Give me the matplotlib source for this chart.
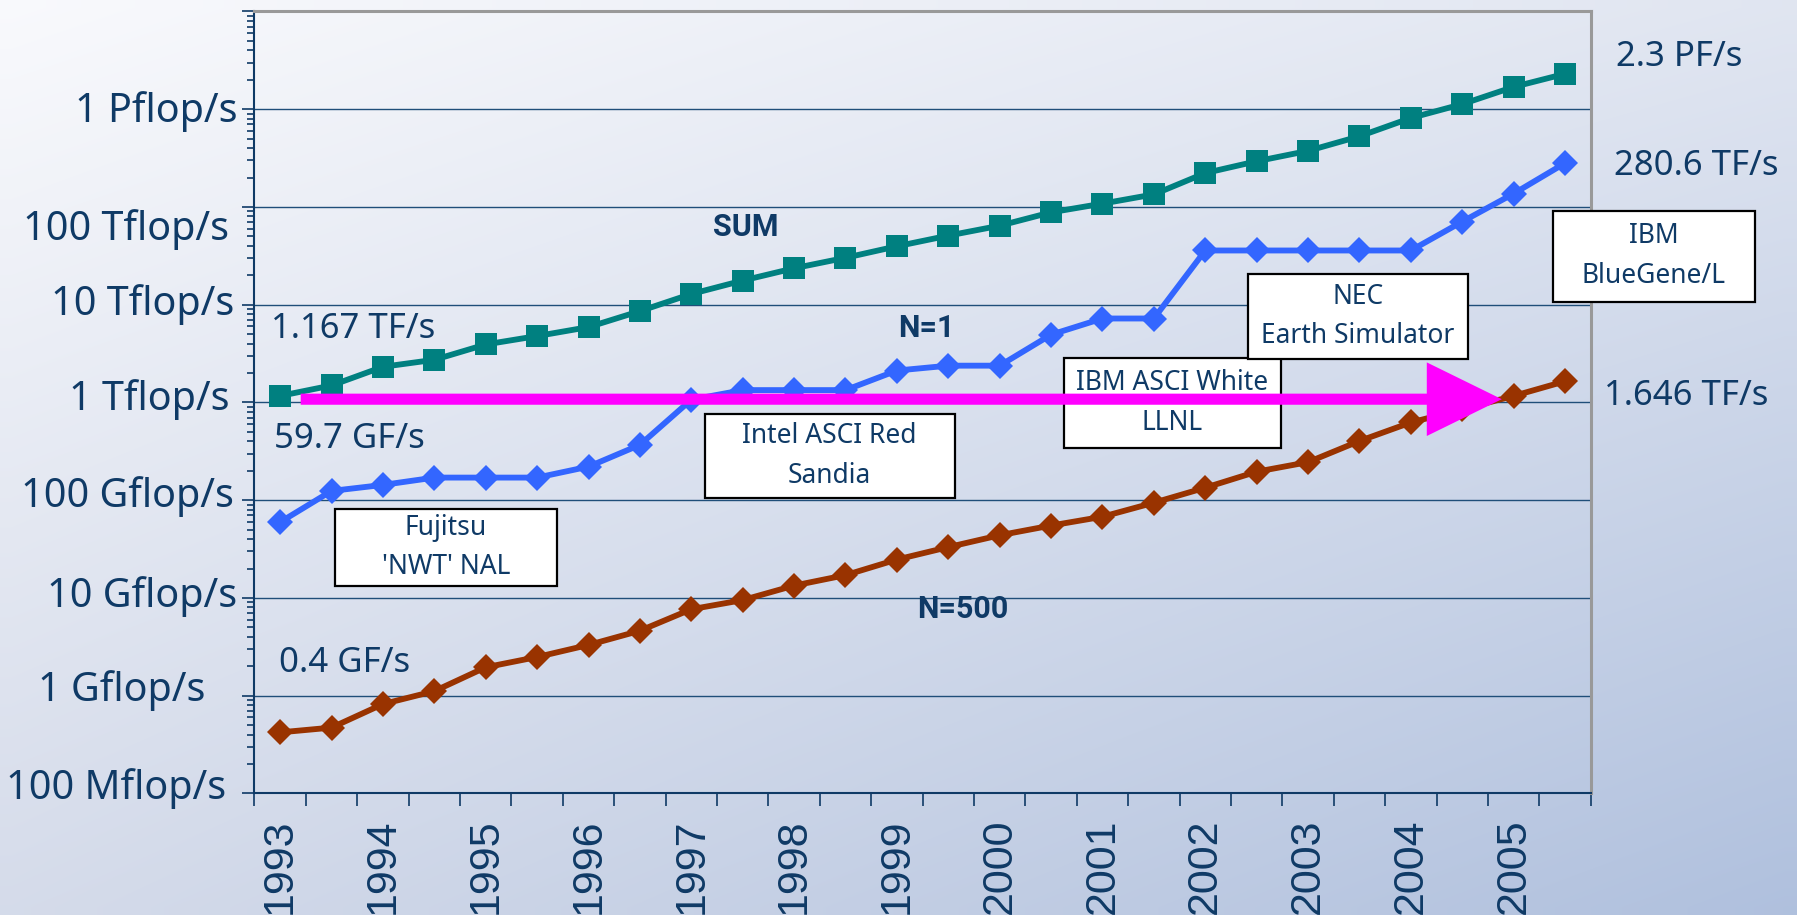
import matplotlib
matplotlib.use('Agg')
import matplotlib.pyplot as plt
import numpy as np
from matplotlib.patches import Rectangle, ArrowStyle
from matplotlib.ticker import FixedLocator, LogLocator, NullFormatter

# Top500 lists, June and November of each year, performance in Gflop/s
list_idx = np.arange(26)
year_labels = [str(y) for y in range(1993, 2006)]

sum_perf = [1167, 1493, 2317, 2732, 3922, 4780, 5900, 8600, 12880, 17660,
            23600, 30200, 39600, 50900, 64300, 88100, 108200, 134400, 222200,
            293300, 374600, 528100, 813100, 1127000, 1690000, 2300000]
n1_perf = [59.7, 124.5, 143.4, 170.4, 170.4, 170.4, 220.4, 368.2, 1068, 1338,
           1338, 1338, 2121, 2379, 2379, 4938, 7226, 7226, 35860, 35860,
           35860, 35860, 35860, 70720, 136800, 280600]
n500_perf = [0.422, 0.472, 0.822, 1.114, 1.955, 2.489, 3.306, 4.620, 7.670,
             9.513, 13.39, 17.12, 24.73, 33.13, 43.82, 55.07, 67.78, 94.30,
             134.3, 195.8, 245.1, 403.4, 624.0, 850.6, 1166, 1646]

decade_vals = [0.1, 1, 10, 100, 1e3, 1e4, 1e5, 1e6]
decade_labels = ['100 Mflop/s', '1 Gflop/s', '10 Gflop/s', '100 Gflop/s',
                 '1 Tflop/s', '10 Tflop/s', '100 Tflop/s', '1 Pflop/s']

box_labels = ["Fujitsu\n'NWT' NAL", "Intel ASCI Red\nSandia",
              "IBM ASCI White\nLLNL", "NEC\nEarth Simulator",
              "IBM\nBlueGene/L"]

NAVY = '#0f3a66'
plt.rcParams['font.family'] = ['Noto Sans', 'DejaVu Sans']

fig = plt.figure(figsize=(17.97, 9.15), dpi=100)

# soft bluish background
bg = fig.add_axes([0, 0, 1, 1], zorder=-5)
tl = np.array([0.975, 0.978, 0.99])
tr = np.array([0.88, 0.90, 0.945])
bl = np.array([0.835, 0.86, 0.918])
br = np.array([0.69, 0.755, 0.87])
u = np.linspace(0, 1, 80)[None, :, None]
v = np.linspace(0, 1, 60)[:, None, None]
grad = (1 - v) * ((1 - u) * tl + u * tr) + v * ((1 - u) * bl + u * br)
bg.imshow(grad, extent=[0, 1, 0, 1], aspect='auto', interpolation='bilinear')
bg.axis('off')

ax = fig.add_axes([0.1416, 0.1328, 0.7436, 0.8547])
ax.set_facecolor('none')
ax.set_yscale('log')

ax.plot(list_idx, sum_perf, color='#008080', lw=4.2, marker='s', ms=15.5,
        mew=0, zorder=3)
ax.plot(list_idx, n1_perf, color='#3366ff', lw=4.2, marker='D', ms=13,
        mew=0, zorder=3)
ax.plot(list_idx, n500_perf, color='#993300', lw=4.2, marker='D', ms=13,
        mew=0, zorder=3)

ax.set_xlim(-0.5, 25.5)
ax.set_ylim(0.1, 1e7)

# y axis
ax.yaxis.set_major_locator(FixedLocator(decade_vals + [1e7]))
ax.yaxis.set_minor_locator(LogLocator(base=10, subs=np.arange(2, 10), numticks=100))
ax.yaxis.set_major_formatter(NullFormatter())
ax.yaxis.set_minor_formatter(NullFormatter())
ax.tick_params(axis='y', which='major', length=9, width=1.2, color=NAVY, direction='out')
ax.tick_params(axis='y', which='minor', length=5, width=1.2, color=NAVY, direction='out')
ax.grid(axis='y', which='major', color='#1f4e79', lw=1)
ax.set_axisbelow(True)

dxs = [20.6, 35.5, 12.4, 14.9, 18.2, 14.9, 18.2, 12.4]
dys = [3.6, 3.6, 0.7, 2.9, 2.2, 0, -16, -1.4]
for val, lab, dx, dy in zip(decade_vals, decade_labels, dxs, dys):
    ax.annotate(lab, xy=(0, val), xycoords=('axes fraction', 'data'),
                xytext=(-dx, dy), textcoords='offset points', ha='right',
                va='center', fontsize=28.5, color=NAVY, annotation_clip=False)

# x axis
ax.set_xticks(list_idx[::2])
ax.set_xticklabels(year_labels, rotation=90, fontsize=31, color=NAVY,
                   family='Liberation Sans')
ax.set_xticks(np.arange(-0.5, 26, 1), minor=True)
ax.tick_params(axis='x', which='major', length=0, pad=18)
ax.tick_params(axis='x', which='minor', length=9, width=1.2, color=NAVY, direction='out')

for s in ['left', 'bottom']:
    ax.spines[s].set_color(NAVY)
    ax.spines[s].set_linewidth(1.5)
for s in ['top', 'right']:
    ax.spines[s].set_color('#999999')
    ax.spines[s].set_linewidth(2.2)

# series annotations
val_kw = dict(color=NAVY, fontsize=25, ha='left', va='center', clip_on=False)
ax.text(-0.18, 5640, '1.167 TF/s', **val_kw)
ax.text(-0.11, 422, '59.7 GF/s', **val_kw)
ax.text(-0.02, 2.17, '0.4 GF/s', **val_kw)
ax.text(26.0, 3.4e6, '2.3 PF/s', **val_kw)
ax.text(25.96, 2.6e5, '280.6 TF/s', **val_kw)
ax.text(25.76, 1175, '1.646 TF/s', **val_kw)

name_kw = dict(color=NAVY, fontsize=22, fontweight='bold', ha='center',
               va='center', family=['Roboto', 'DejaVu Sans'])
ax.text(9.06, 62400, 'SUM', **name_kw)
ax.text(12.57, 5790, 'N=1', **name_kw)
ax.text(13.28, 7.74, 'N=500', **name_kw)

# machine boxes, placed in figure pixels of the 1568x798 layout
box_rects = [(292, 444, 486, 511), (615, 361, 833, 434), (928, 312, 1118, 391),
             (1089, 239, 1281, 313), (1355, 184, 1531, 263)]
for k, (lab, (x0, y0, x1, y1)) in enumerate(zip(box_labels, box_rects)):
    z = 5 + 0.1 * k
    rect = Rectangle((x0 / 1568, 1 - y1 / 798), (x1 - x0) / 1568, (y1 - y0) / 798,
                     transform=fig.transFigure, facecolor='white', edgecolor='black',
                     lw=1.6, clip_on=False, zorder=z)
    ax.add_artist(rect)
    ax.text((x0 + x1) / 2 / 1568, 1 - (y0 + y1) / 2 / 798, lab,
            transform=fig.transFigure, ha='center', va='center', fontsize=19,
            color=NAVY, linespacing=1.55, zorder=z + 0.05, clip_on=False)

# magenta arrow across 1 Tflop/s
ax.annotate('', xy=(23.77, 1080), xytext=(0.40, 1080),
            arrowprops=dict(arrowstyle=ArrowStyle.Simple(head_length=54, head_width=53, tail_width=8),
                            mutation_scale=1, color='#ff00ff', lw=0, shrinkA=0, shrinkB=0),
            zorder=8)

fig.savefig('out.png', dpi=100)
